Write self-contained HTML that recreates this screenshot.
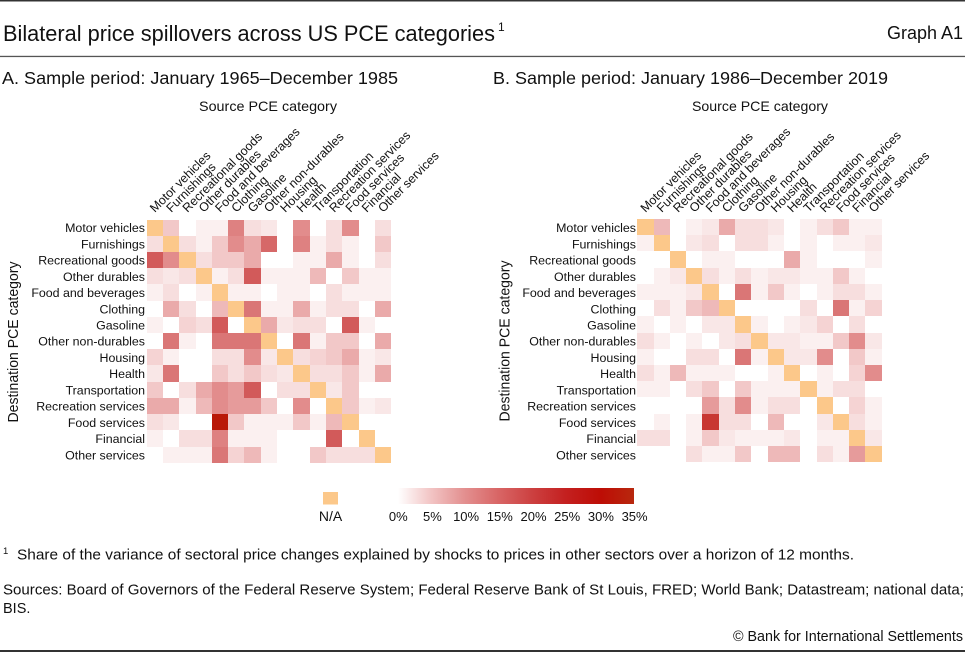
<!DOCTYPE html>
<html><head><meta charset="utf-8"><style>
html,body{margin:0;padding:0;background:#fff}
#w{position:relative;width:965px;height:653px;overflow:hidden;background:#fff;font-family:"Liberation Sans",sans-serif}
.g{position:absolute;display:grid;grid-template-columns:repeat(15,16.3px);grid-template-rows:repeat(15,16.23px)}
.g i{display:block}
.z{background:#fff}.a{background:#fbf0f0}.b{background:#f9e7e7}.c{background:#f7dede}.d{background:#f5d3d3}
.e{background:#f2c8c8}.f{background:#eeb9b9}.g i.g,.gg{background:#eaaaaa}.h{background:#e69b9b}.i{background:#e28c8c}
.j{background:#de8181}.k{background:#da7676}.l{background:#d66868}.m{background:#d25a5a}.o{background:#c83732}
.q{background:#b91908}.n{background:#fcc88a}
svg{position:absolute;left:0;top:0}
</style></head><body><div id="w">
<div class="g" style="left:146.7px;top:219.5px">
<i class="n"></i><i class="e"></i><i class="z"></i><i class="a"></i><i class="a"></i><i class="j"></i><i class="c"></i><i class="b"></i><i class="z"></i><i class="i"></i><i class="z"></i><i class="c"></i><i class="i"></i><i class="z"></i><i class="c"></i>
<i class="c"></i><i class="n"></i><i class="c"></i><i class="a"></i><i class="e"></i><i class="i"></i><i class="gg"></i><i class="l"></i><i class="z"></i><i class="j"></i><i class="a"></i><i class="c"></i><i class="a"></i><i class="z"></i><i class="e"></i>
<i class="m"></i><i class="i"></i><i class="n"></i><i class="c"></i><i class="e"></i><i class="e"></i><i class="gg"></i><i class="z"></i><i class="z"></i><i class="a"></i><i class="a"></i><i class="gg"></i><i class="a"></i><i class="z"></i><i class="c"></i>
<i class="c"></i><i class="b"></i><i class="c"></i><i class="n"></i><i class="a"></i><i class="c"></i><i class="m"></i><i class="a"></i><i class="a"></i><i class="a"></i><i class="f"></i><i class="z"></i><i class="e"></i><i class="a"></i><i class="a"></i>
<i class="a"></i><i class="c"></i><i class="z"></i><i class="a"></i><i class="n"></i><i class="a"></i><i class="a"></i><i class="z"></i><i class="a"></i><i class="a"></i><i class="z"></i><i class="c"></i><i class="a"></i><i class="a"></i><i class="a"></i>
<i class="z"></i><i class="gg"></i><i class="c"></i><i class="z"></i><i class="f"></i><i class="n"></i><i class="k"></i><i class="a"></i><i class="a"></i><i class="gg"></i><i class="a"></i><i class="c"></i><i class="c"></i><i class="z"></i><i class="gg"></i>
<i class="a"></i><i class="z"></i><i class="d"></i><i class="c"></i><i class="m"></i><i class="z"></i><i class="n"></i><i class="gg"></i><i class="b"></i><i class="c"></i><i class="c"></i><i class="z"></i><i class="m"></i><i class="a"></i><i class="z"></i>
<i class="z"></i><i class="k"></i><i class="a"></i><i class="z"></i><i class="k"></i><i class="k"></i><i class="k"></i><i class="n"></i><i class="z"></i><i class="k"></i><i class="a"></i><i class="e"></i><i class="e"></i><i class="z"></i><i class="gg"></i>
<i class="d"></i><i class="a"></i><i class="z"></i><i class="z"></i><i class="c"></i><i class="c"></i><i class="i"></i><i class="b"></i><i class="n"></i><i class="c"></i><i class="d"></i><i class="e"></i><i class="gg"></i><i class="a"></i><i class="b"></i>
<i class="b"></i><i class="k"></i><i class="z"></i><i class="z"></i><i class="e"></i><i class="c"></i><i class="e"></i><i class="c"></i><i class="b"></i><i class="n"></i><i class="c"></i><i class="c"></i><i class="e"></i><i class="a"></i><i class="gg"></i>
<i class="e"></i><i class="z"></i><i class="c"></i><i class="gg"></i><i class="i"></i><i class="h"></i><i class="m"></i><i class="z"></i><i class="c"></i><i class="c"></i><i class="n"></i><i class="b"></i><i class="e"></i><i class="z"></i><i class="z"></i>
<i class="gg"></i><i class="gg"></i><i class="a"></i><i class="f"></i><i class="i"></i><i class="h"></i><i class="h"></i><i class="e"></i><i class="z"></i><i class="i"></i><i class="z"></i><i class="n"></i><i class="e"></i><i class="a"></i><i class="b"></i>
<i class="c"></i><i class="b"></i><i class="z"></i><i class="z"></i><i class="q"></i><i class="e"></i><i class="a"></i><i class="a"></i><i class="a"></i><i class="e"></i><i class="a"></i><i class="f"></i><i class="n"></i><i class="z"></i><i class="z"></i>
<i class="a"></i><i class="z"></i><i class="c"></i><i class="c"></i><i class="j"></i><i class="a"></i><i class="a"></i><i class="a"></i><i class="z"></i><i class="z"></i><i class="z"></i><i class="m"></i><i class="z"></i><i class="n"></i><i class="z"></i>
<i class="z"></i><i class="a"></i><i class="a"></i><i class="a"></i><i class="k"></i><i class="d"></i><i class="f"></i><i class="a"></i><i class="z"></i><i class="z"></i><i class="e"></i><i class="c"></i><i class="c"></i><i class="c"></i><i class="n"></i>
</div>
<div class="g" style="left:637.3px;top:219px">
<i class="n"></i><i class="f"></i><i class="z"></i><i class="a"></i><i class="b"></i><i class="gg"></i><i class="c"></i><i class="c"></i><i class="b"></i><i class="z"></i><i class="a"></i><i class="c"></i><i class="e"></i><i class="a"></i><i class="a"></i>
<i class="a"></i><i class="n"></i><i class="z"></i><i class="b"></i><i class="c"></i><i class="z"></i><i class="c"></i><i class="c"></i><i class="a"></i><i class="z"></i><i class="a"></i><i class="z"></i><i class="a"></i><i class="a"></i><i class="b"></i>
<i class="z"></i><i class="z"></i><i class="n"></i><i class="z"></i><i class="a"></i><i class="a"></i><i class="z"></i><i class="z"></i><i class="z"></i><i class="gg"></i><i class="a"></i><i class="z"></i><i class="z"></i><i class="z"></i><i class="a"></i>
<i class="z"></i><i class="a"></i><i class="b"></i><i class="n"></i><i class="c"></i><i class="a"></i><i class="c"></i><i class="a"></i><i class="b"></i><i class="b"></i><i class="a"></i><i class="a"></i><i class="e"></i><i class="a"></i><i class="z"></i>
<i class="a"></i><i class="a"></i><i class="a"></i><i class="b"></i><i class="n"></i><i class="z"></i><i class="k"></i><i class="a"></i><i class="e"></i><i class="a"></i><i class="z"></i><i class="a"></i><i class="c"></i><i class="c"></i><i class="a"></i>
<i class="z"></i><i class="c"></i><i class="a"></i><i class="e"></i><i class="f"></i><i class="n"></i><i class="z"></i><i class="z"></i><i class="z"></i><i class="z"></i><i class="c"></i><i class="z"></i><i class="k"></i><i class="a"></i><i class="d"></i>
<i class="a"></i><i class="z"></i><i class="a"></i><i class="z"></i><i class="b"></i><i class="b"></i><i class="n"></i><i class="a"></i><i class="z"></i><i class="a"></i><i class="b"></i><i class="d"></i><i class="z"></i><i class="c"></i><i class="z"></i>
<i class="c"></i><i class="a"></i><i class="z"></i><i class="a"></i><i class="z"></i><i class="b"></i><i class="c"></i><i class="n"></i><i class="b"></i><i class="b"></i><i class="a"></i><i class="a"></i><i class="e"></i><i class="i"></i><i class="b"></i>
<i class="a"></i><i class="z"></i><i class="z"></i><i class="c"></i><i class="c"></i><i class="z"></i><i class="k"></i><i class="a"></i><i class="n"></i><i class="b"></i><i class="b"></i><i class="i"></i><i class="z"></i><i class="e"></i><i class="a"></i>
<i class="c"></i><i class="a"></i><i class="f"></i><i class="a"></i><i class="a"></i><i class="a"></i><i class="z"></i><i class="z"></i><i class="a"></i><i class="n"></i><i class="z"></i><i class="a"></i><i class="z"></i><i class="d"></i><i class="i"></i>
<i class="a"></i><i class="a"></i><i class="z"></i><i class="c"></i><i class="e"></i><i class="z"></i><i class="e"></i><i class="a"></i><i class="a"></i><i class="a"></i><i class="n"></i><i class="a"></i><i class="c"></i><i class="c"></i><i class="z"></i>
<i class="z"></i><i class="z"></i><i class="z"></i><i class="z"></i><i class="h"></i><i class="c"></i><i class="i"></i><i class="a"></i><i class="c"></i><i class="c"></i><i class="z"></i><i class="n"></i><i class="z"></i><i class="d"></i><i class="a"></i>
<i class="z"></i><i class="a"></i><i class="z"></i><i class="a"></i><i class="o"></i><i class="c"></i><i class="c"></i><i class="z"></i><i class="f"></i><i class="z"></i><i class="z"></i><i class="b"></i><i class="n"></i><i class="c"></i><i class="a"></i>
<i class="c"></i><i class="c"></i><i class="z"></i><i class="a"></i><i class="e"></i><i class="b"></i><i class="a"></i><i class="a"></i><i class="a"></i><i class="b"></i><i class="z"></i><i class="a"></i><i class="a"></i><i class="n"></i><i class="b"></i>
<i class="z"></i><i class="z"></i><i class="z"></i><i class="c"></i><i class="a"></i><i class="a"></i><i class="e"></i><i class="z"></i><i class="f"></i><i class="f"></i><i class="z"></i><i class="c"></i><i class="a"></i><i class="h"></i><i class="n"></i>
</div>
<svg width="965" height="653" viewBox="0 0 965 653" font-family="Liberation Sans, sans-serif" fill="#111">
<defs><linearGradient id="gr" x1="0" x2="1" y1="0" y2="0">
<stop offset="0" stop-color="#ffffff"/><stop offset="0.14" stop-color="#f2c4c4"/><stop offset="0.28" stop-color="#e39090"/><stop offset="0.43" stop-color="#d86464"/><stop offset="0.57" stop-color="#cc4040"/><stop offset="0.71" stop-color="#c42020"/><stop offset="0.86" stop-color="#bd0d05"/><stop offset="1" stop-color="#b8280e"/>
</linearGradient></defs>
<rect x="0" y="0" width="965" height="1.5" fill="#333"/>
<rect x="0" y="55.8" width="965" height="1.3" fill="#555"/>
<rect x="0" y="650" width="965" height="2" fill="#333"/>
<text x="3" y="41" font-size="22" textLength="492" lengthAdjust="spacingAndGlyphs">Bilateral price spillovers across US PCE categories</text>
<text x="498" y="31" font-size="12">1</text>
<text x="963" y="39" font-size="18" text-anchor="end" textLength="76" lengthAdjust="spacingAndGlyphs">Graph A1</text>
<text x="2" y="84" font-size="17.5" textLength="396" lengthAdjust="spacingAndGlyphs">A. Sample period: January 1965–December 1985</text>
<text x="493" y="84" font-size="17.5" textLength="395" lengthAdjust="spacingAndGlyphs">B. Sample period: January 1986–December 2019</text>
<text x="199" y="111" font-size="14" textLength="138" lengthAdjust="spacingAndGlyphs">Source PCE category</text>
<text x="692" y="111" font-size="14" textLength="136" lengthAdjust="spacingAndGlyphs">Source PCE category</text>
<text transform="translate(18,342) rotate(-90)" font-size="14.5" text-anchor="middle" textLength="161" lengthAdjust="spacingAndGlyphs">Destination PCE category</text>
<text transform="translate(509.5,341) rotate(-90)" font-size="14.5" text-anchor="middle" textLength="161" lengthAdjust="spacingAndGlyphs">Destination PCE category</text>
<g font-size="12.4" text-anchor="end">
<text x="145" y="232.1">Motor vehicles</text><text x="145" y="248.3">Furnishings</text><text x="145" y="264.6">Recreational goods</text><text x="145" y="280.8">Other durables</text><text x="145" y="297">Food and beverages</text><text x="145" y="313.3">Clothing</text><text x="145" y="329.5">Gasoline</text><text x="145" y="345.7">Other non-durables</text><text x="145" y="361.9">Housing</text><text x="145" y="378.2">Health</text><text x="145" y="394.4">Transportation</text><text x="145" y="410.6">Recreation services</text><text x="145" y="426.9">Food services</text><text x="145" y="443.1">Financial</text><text x="145" y="459.3">Other services</text>
<text x="636" y="232.1">Motor vehicles</text><text x="636" y="248.3">Furnishings</text><text x="636" y="264.6">Recreational goods</text><text x="636" y="280.8">Other durables</text><text x="636" y="297">Food and beverages</text><text x="636" y="313.3">Clothing</text><text x="636" y="329.5">Gasoline</text><text x="636" y="345.7">Other non-durables</text><text x="636" y="361.9">Housing</text><text x="636" y="378.2">Health</text><text x="636" y="394.4">Transportation</text><text x="636" y="410.6">Recreation services</text><text x="636" y="426.9">Food services</text><text x="636" y="443.1">Financial</text><text x="636" y="459.3">Other services</text>
</g>
<g font-size="12.4">
<text transform="translate(154.9,213) rotate(-45)">Motor vehicles</text>
<text transform="translate(171.2,213) rotate(-45)">Furnishings</text>
<text transform="translate(187.5,213) rotate(-45)">Recreational goods</text>
<text transform="translate(203.8,213) rotate(-45)">Other durables</text>
<text transform="translate(220.1,213) rotate(-45)">Food and beverages</text>
<text transform="translate(236.4,213) rotate(-45)">Clothing</text>
<text transform="translate(252.7,213) rotate(-45)">Gasoline</text>
<text transform="translate(269,213) rotate(-45)">Other non-durables</text>
<text transform="translate(285.3,213) rotate(-45)">Housing</text>
<text transform="translate(301.6,213) rotate(-45)">Health</text>
<text transform="translate(317.9,213) rotate(-45)">Transportation</text>
<text transform="translate(334.2,213) rotate(-45)">Recreation services</text>
<text transform="translate(350.5,213) rotate(-45)">Food services</text>
<text transform="translate(366.8,213) rotate(-45)">Financial</text>
<text transform="translate(383.1,213) rotate(-45)">Other services</text>
<text transform="translate(645.5,213) rotate(-45)">Motor vehicles</text>
<text transform="translate(661.8,213) rotate(-45)">Furnishings</text>
<text transform="translate(678.1,213) rotate(-45)">Recreational goods</text>
<text transform="translate(694.4,213) rotate(-45)">Other durables</text>
<text transform="translate(710.7,213) rotate(-45)">Food and beverages</text>
<text transform="translate(727,213) rotate(-45)">Clothing</text>
<text transform="translate(743.3,213) rotate(-45)">Gasoline</text>
<text transform="translate(759.6,213) rotate(-45)">Other non-durables</text>
<text transform="translate(775.9,213) rotate(-45)">Housing</text>
<text transform="translate(792.2,213) rotate(-45)">Health</text>
<text transform="translate(808.5,213) rotate(-45)">Transportation</text>
<text transform="translate(824.8,213) rotate(-45)">Recreation services</text>
<text transform="translate(841.1,213) rotate(-45)">Food services</text>
<text transform="translate(857.4,213) rotate(-45)">Financial</text>
<text transform="translate(873.7,213) rotate(-45)">Other services</text>
</g>
<rect x="323" y="492" width="15" height="12.5" fill="#fcc88a"/>
<text x="330.5" y="521" font-size="14" text-anchor="middle">N/A</text>
<rect x="398" y="488" width="236" height="16" fill="url(#gr)"/>
<g font-size="13" text-anchor="middle">
<text x="398.3" y="521">0%</text><text x="432.4" y="521">5%</text><text x="466.1" y="521">10%</text><text x="499.8" y="521">15%</text><text x="533.5" y="521">20%</text><text x="567.2" y="521">25%</text><text x="600.9" y="521">30%</text><text x="634.6" y="521">35%</text>
</g>
<text x="3" y="554" font-size="9.5">1</text>
<text x="17" y="559.5" font-size="14.5" textLength="837" lengthAdjust="spacingAndGlyphs">Share of the variance of sectoral price changes explained by shocks to prices in other sectors over a horizon of 12 months.</text>
<text x="3" y="594.5" font-size="14.5" textLength="961" lengthAdjust="spacingAndGlyphs">Sources: Board of Governors of the Federal Reserve System; Federal Reserve Bank of St Louis, FRED; World Bank; Datastream; national data;</text>
<text x="3" y="613" font-size="14.5">BIS.</text>
<text x="963" y="641" font-size="14.5" text-anchor="end" textLength="230" lengthAdjust="spacingAndGlyphs">© Bank for International Settlements</text>
</svg>
</div></body></html>
